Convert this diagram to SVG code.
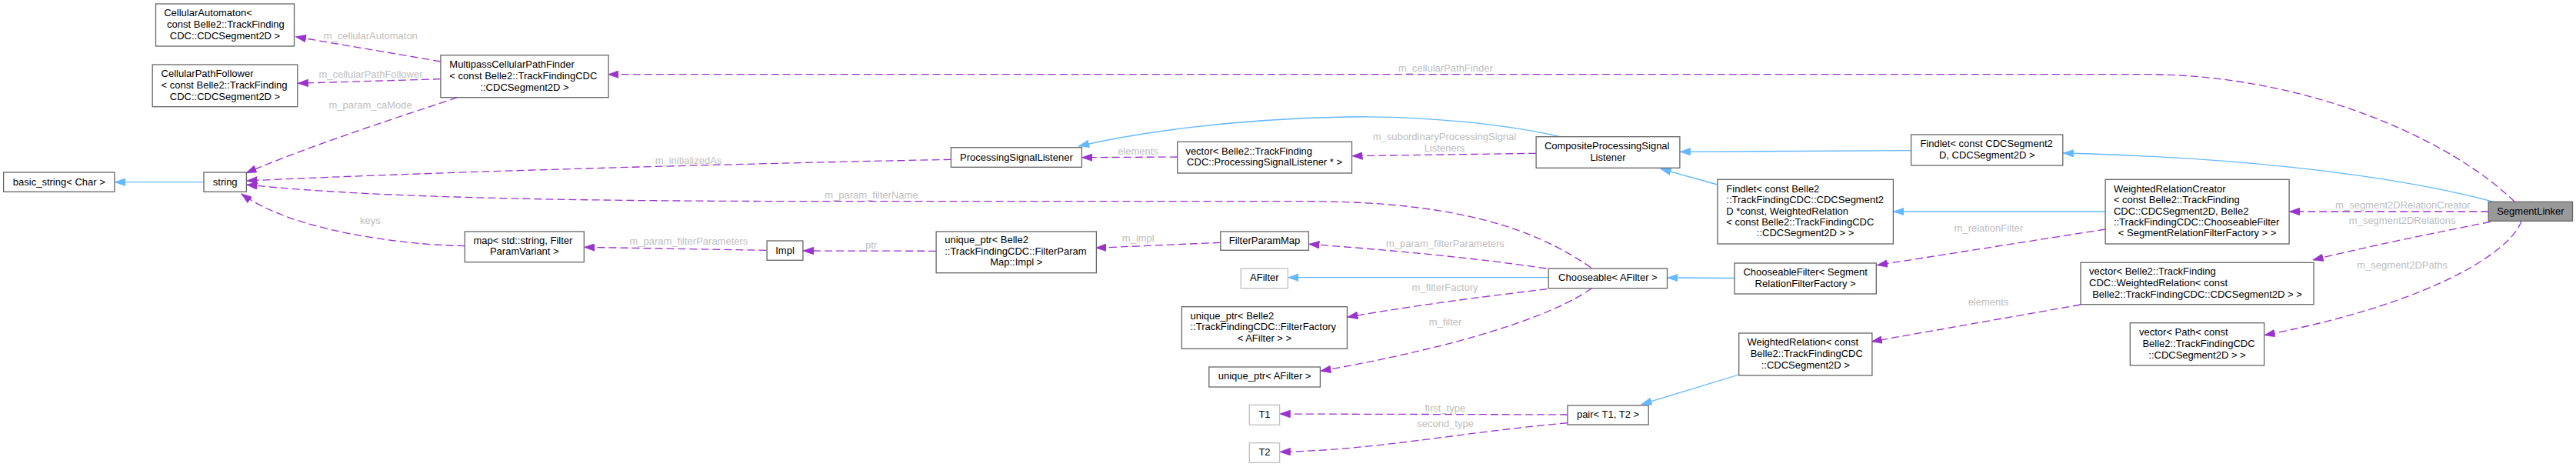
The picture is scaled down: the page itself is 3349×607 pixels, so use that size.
<svg xmlns="http://www.w3.org/2000/svg" width="3349" height="607" viewBox="0 0 3349 607">
<style>
text{font-family:"Liberation Sans",Arial,Helvetica,sans-serif;font-size:13px;fill:#000}
.n rect{fill:#fff;stroke:#666;stroke-width:1.3}
.u rect{fill:#fff;stroke:#bfbfbf;stroke-width:1.3}
.root rect{fill:#999;stroke:#666;stroke-width:1.3}
.c{text-anchor:middle}
.inh{fill:none;stroke:#63b8ff;stroke-width:1.3;marker-end:url(#ab)}
.use{fill:none;stroke:#9a32cd;stroke-width:1.3;stroke-dasharray:10,5;marker-end:url(#ap)}
.lbl{fill:#bebebe;text-anchor:middle}
</style>
<defs>
<marker id="ap" markerUnits="userSpaceOnUse" markerWidth="14" markerHeight="10" viewBox="0 0 13.3 9.4" refX="13.3" refY="4.7" orient="auto"><path d="M0,0 L13.3,4.7 L0,9.4 z" fill="#9a32cd" stroke="#9a32cd" stroke-width="0.5"/></marker>
<marker id="ab" markerUnits="userSpaceOnUse" markerWidth="14" markerHeight="10" viewBox="0 0 13.3 9.4" refX="13.3" refY="4.7" orient="auto"><path d="M0,0 L13.3,4.7 L0,9.4 z" fill="#63b8ff" stroke="#63b8ff" stroke-width="0.5"/></marker>
</defs>
<rect width="3349" height="607" fill="#fff"/>
<g id="connectors">
<path class="inh" d="M3241.9,262.3 C3090,222 2880,204 2681.8,199"/>
<path class="inh" d="M2484.6,195.7 L2183.9,197.3"/>
<path class="inh" d="M2028.2,177.7 C1960,162 1850,150 1750,152 C1600,155 1480,172 1402.1,190"/>
<path class="inh" d="M2232.9,240 L2158.6,219.3"/>
<path class="inh" d="M2737.1,275 L2461.4,275"/>
<path class="inh" d="M2255,361.5 L2167.5,361"/>
<path class="inh" d="M2013.2,360.7 L1674.3,360.7"/>
<path class="inh" d="M2260.7,487 L2133.6,525.7"/>
<path class="inh" d="M265,236.7 L148.9,236.7"/>
<path class="use" d="M3269.2,262.3 C3190,185 3010,100 2800,96.7 L790.4,96.7"/>
<text class="lbl" x="1879.3" y="92.8">m_cellularPathFinder</text>
<path class="use" d="M572.9,80 L384,47.7"/>
<text class="lbl" x="481.8" y="51.2">m_cellularAutomaton</text>
<path class="use" d="M572.9,102.7 L386.8,108.3"/>
<text class="lbl" x="482" y="101.2">m_cellularPathFollower</text>
<path class="use" d="M594.6,126.7 C540,145 400,190 319.6,225"/>
<text class="lbl" x="481.6" y="141.2">m_param_caMode</text>
<path class="use" d="M1236.4,207.3 C1000,212 600,222 320.4,235"/>
<text class="lbl" x="895" y="212.8">m_initializedAs</text>
<path class="use" d="M2068.6,348 C2000,300 1900,262 1700,261.7 L1150,261.7 C800,262 500,259 320.4,240"/>
<text class="lbl" x="1132.9" y="257.8">m_param_filterName</text>
<path class="use" d="M604.3,319.7 C520,318 380,300 313.6,251.7"/>
<text class="lbl" x="481.4" y="291.2">keys</text>
<path class="use" d="M996.4,325.3 L759.3,321.3"/>
<text class="lbl" x="895.4" y="318.2">m_param_filterParameters</text>
<path class="use" d="M1217.1,326.3 L1043.9,326"/>
<text class="lbl" x="1132.5" y="322.5">ptr</text>
<path class="use" d="M1586.8,315.3 L1424.3,322.3"/>
<text class="lbl" x="1479.8" y="314.2">m_impl</text>
<path class="use" d="M2010.4,349 C1950,340 1850,328 1701.4,317.3"/>
<text class="lbl" x="1878.9" y="320.8">m_param_filterParameters</text>
<path class="use" d="M2011.4,375.7 C1950,383 1850,395 1751.4,412.3"/>
<text class="lbl" x="1878.6" y="378.2">m_filterFactory</text>
<path class="use" d="M2069.3,374.7 C2020,410 1900,450 1716.4,482.3"/>
<text class="lbl" x="1879.1" y="423.2">m_filter</text>
<path class="use" d="M2037.9,539 L1663.6,538"/>
<text class="lbl" x="1878.8" y="535.2">first_type</text>
<path class="use" d="M2037.9,549.7 C1900,562 1780,586 1663.6,587.3"/>
<text class="lbl" x="1879.1" y="555.2">second_type</text>
<path class="use" d="M1530.7,204 L1406.4,204.7"/>
<text class="lbl" x="1479.5" y="201.2">elements</text>
<path class="use" d="M1997.1,199.3 L1757.5,202.7"/>
<text class="lbl" x="1878" y="182.2">m_subordinaryProcessingSignal</text>
<text class="lbl" x="1878" y="196.8">Listeners</text>
<path class="use" d="M3235.2,275 L2976.1,275"/>
<text class="lbl" x="3123.9" y="271.2">m_segment2DRelationCreator</text>
<path class="use" d="M2737.1,298 L2440,344.7"/>
<text class="lbl" x="2585.4" y="300.5">m_relationFilter</text>
<path class="use" d="M2705,396 L2432.9,444"/>
<text class="lbl" x="2585" y="396.8">elements</text>
<path class="use" d="M3237.7,288.3 C3200,296 3100,315 3006.6,338"/>
<text class="lbl" x="3123.2" y="291.2">m_segment2DRelations</text>
<path class="use" d="M3278,287.3 C3268,320 3180,390 2943.6,435.7"/>
<text class="lbl" x="3123.2" y="349.2">m_segment2DPaths</text>
</g>
<g id="SegmentLinker" class="root"><rect x="3235.2" y="262.3" width="109.3" height="25"/><text class="c" x="3289.9" y="279.2">SegmentLinker</text></g>
<g id="FindletCDC" class="n"><rect x="2484.6" y="175" width="197.2" height="40"/><text x="2496.4" y="191.2">Findlet&lt; const CDCSegment2</text><text class="c" x="2583.2" y="205.5">D, CDCSegment2D &gt;</text></g>
<g id="Composite" class="n"><rect x="1997.1" y="177.7" width="186.8" height="40.6"/><text x="2007.9" y="193.8">CompositeProcessingSignal</text><text class="c" x="2090.5" y="208.5">Listener</text></g>
<g id="PSL" class="n"><rect x="1236.4" y="191.7" width="170" height="25.6"/><text class="c" x="1321.4" y="208.5">ProcessingSignalListener</text></g>
<g id="VectorPSL" class="n"><rect x="1530.7" y="184.3" width="226.8" height="40.7"/><text x="1541.4" y="201.2">vector&lt; Belle2::TrackFinding</text><text class="c" x="1644.1" y="215.2">CDC::ProcessingSignalListener * &gt;</text></g>
<g id="FindletBelle2" class="n"><rect x="2232.9" y="233.3" width="228.5" height="83.7"/><text x="2244.3" y="249.5">Findlet&lt; const Belle2</text><text x="2244.3" y="263.8">::TrackFindingCDC::CDCSegment2</text><text x="2244.3" y="278.8">D *const, WeightedRelation</text><text x="2244.3" y="292.8">&lt; const Belle2::TrackFindingCDC</text><text class="c" x="2347.1" y="306.5">::CDCSegment2D &gt; &gt;</text></g>
<g id="WeightedRelationCreator" class="n"><rect x="2737.1" y="233.3" width="239" height="83.7"/><text x="2747.9" y="249.5">WeightedRelationCreator</text><text x="2747.9" y="263.8">&lt; const Belle2::TrackFinding</text><text x="2747.9" y="278.8">CDC::CDCSegment2D, Belle2</text><text x="2747.9" y="292.8">::TrackFindingCDC::ChooseableFilter</text><text class="c" x="2856.6" y="306.5">&lt; SegmentRelationFilterFactory &gt; &gt;</text></g>
<g id="ChooseableFilter" class="n"><rect x="2255" y="342" width="184.3" height="40"/><text x="2266.4" y="358.2">ChooseableFilter&lt; Segment</text><text class="c" x="2347.1" y="372.8">RelationFilterFactory &gt;</text></g>
<g id="VectorWR" class="n"><rect x="2705" y="341.3" width="303" height="54.4"/><text x="2716.1" y="356.8">vector&lt; Belle2::TrackFinding</text><text x="2716.1" y="371.5">CDC::WeightedRelation&lt; const</text><text class="c" x="2856.5" y="386.8">Belle2::TrackFindingCDC::CDCSegment2D &gt; &gt;</text></g>
<g id="VectorPath" class="n"><rect x="2769.3" y="419.7" width="174.3" height="55.3"/><text x="2781" y="435.8">vector&lt; Path&lt; const</text><text x="2785.4" y="450.8">Belle2::TrackFindingCDC</text><text class="c" x="2856.5" y="465.8">::CDCSegment2D &gt; &gt;</text></g>
<g id="WeightedRelation" class="n"><rect x="2260.7" y="433" width="173.2" height="55"/><text x="2271.4" y="449.2">WeightedRelation&lt; const</text><text x="2275.7" y="463.8">Belle2::TrackFindingCDC</text><text class="c" x="2347.3" y="478.8">::CDCSegment2D &gt;</text></g>
<g id="Chooseable" class="n"><rect x="2013.2" y="349" width="154.3" height="25.7"/><text class="c" x="2090.4" y="365.2">Chooseable&lt; AFilter &gt;</text></g>
<g id="Pair" class="n"><rect x="2037.9" y="527" width="105.3" height="25"/><text class="c" x="2090.5" y="543.2">pair&lt; T1, T2 &gt;</text></g>
<g id="FilterParamMap" class="n"><rect x="1586.8" y="301" width="114.6" height="24.3"/><text class="c" x="1644.1" y="316.5">FilterParamMap</text></g>
<g id="AFilter" class="u"><rect x="1613.2" y="349" width="61.1" height="25.7"/><text class="c" x="1643.8" y="365.2">AFilter</text></g>
<g id="UptrFactory" class="n"><rect x="1536.4" y="398.7" width="215" height="54.6"/><text x="1547.5" y="414.8">unique_ptr&lt; Belle2</text><text x="1547.5" y="429.2">::TrackFindingCDC::FilterFactory</text><text class="c" x="1643.9" y="443.5">&lt; AFilter &gt; &gt;</text></g>
<g id="UptrAFilter" class="n"><rect x="1571.8" y="477" width="144.6" height="26"/><text class="c" x="1644.1" y="493.2">unique_ptr&lt; AFilter &gt;</text></g>
<g id="T1" class="u"><rect x="1624.3" y="526.3" width="39.3" height="26"/><text class="c" x="1644" y="542.5">T1</text></g>
<g id="T2" class="u"><rect x="1624.3" y="575.7" width="39.3" height="25.6"/><text class="c" x="1644" y="591.8">T2</text></g>
<g id="UptrImpl" class="n"><rect x="1217.1" y="301" width="208.3" height="53.7"/><text x="1228.2" y="315.8">unique_ptr&lt; Belle2</text><text x="1228.2" y="330.8">::TrackFindingCDC::FilterParam</text><text class="c" x="1321.3" y="345.2">Map::Impl &gt;</text></g>
<g id="Impl" class="n"><rect x="997.1" y="313" width="46.8" height="25.3"/><text class="c" x="1020.5" y="329.8">Impl</text></g>
<g id="Map" class="n"><rect x="604.3" y="301" width="155" height="39.7"/><text x="615.4" y="316.8">map&lt; std::string, Filter</text><text class="c" x="681.8" y="330.8">ParamVariant &gt;</text></g>
<g id="Multipass" class="n"><rect x="572.9" y="71.7" width="218.2" height="55"/><text x="584.3" y="87.8">MultipassCellularPathFinder</text><text x="584.3" y="102.8">&lt; const Belle2::TrackFindingCDC</text><text class="c" x="682" y="117.8">::CDCSegment2D &gt;</text></g>
<g id="CellularAutomaton" class="n"><rect x="202.5" y="5" width="180" height="55"/><text x="213.2" y="21.2">CellularAutomaton&lt;</text><text x="217.1" y="36.2">const Belle2::TrackFinding</text><text class="c" x="292.5" y="51.2">CDC::CDCSegment2D &gt;</text></g>
<g id="CellularPathFollower" class="n"><rect x="198.2" y="84" width="188.6" height="54.7"/><text x="209.6" y="100.2">CellularPathFollower</text><text x="209.6" y="114.5">&lt; const Belle2::TrackFinding</text><text class="c" x="292.5" y="129.5">CDC::CDCSegment2D &gt;</text></g>
<g id="String" class="n"><rect x="265" y="224" width="55.4" height="25.3"/><text class="c" x="292.7" y="240.5">string</text></g>
<g id="BasicString" class="n"><rect x="4.6" y="224" width="144.3" height="25.3"/><text class="c" x="76.8" y="240.5">basic_string&lt; Char &gt;</text></g>
</svg>
